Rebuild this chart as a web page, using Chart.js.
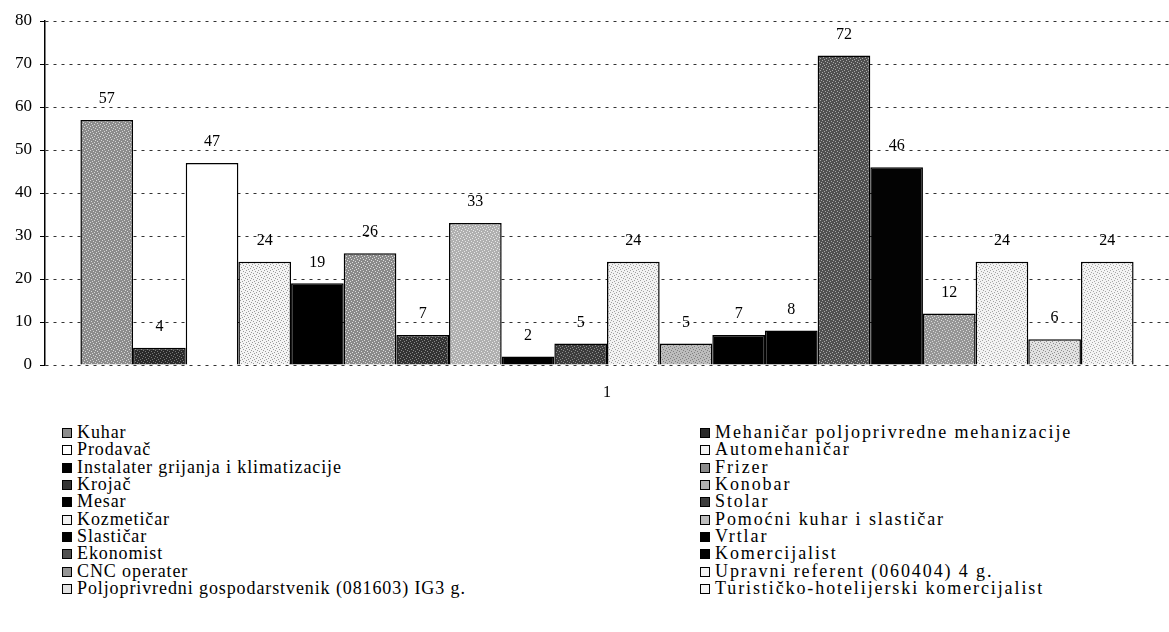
<!DOCTYPE html>
<html>
<head>
<meta charset="utf-8">
<script src="https://cdn.jsdelivr.net/npm/chart.js@4/dist/chart.umd.min.js"></script>
<style>
    html, body { margin: 0; padding: 0; background: #fff; }
    body { width: 1169px; height: 632px; position: relative; overflow: hidden; }
    #chartBox { position: absolute; left: 0; top: 0; width: 1169px; height: 410px; }
    .legend-col { position: absolute; top: 424px; color: #000;
        font-family: "Liberation Serif", "Times New Roman", Tinos, Times, "DejaVu Serif", serif; }
    .legend-col .item { height: 17.35px; line-height: 17.35px; white-space: nowrap;
        font-size: 18px; letter-spacing: 0.9px; }
    .legend-col .box { display: inline-block; width: 10px; height: 10px; border: 1px solid #000;
        margin-right: 5px; vertical-align: 0px; box-sizing: border-box; }
    #legendLeft { left: 62px; }
    #legendRight { left: 700px; }
    #legendRight .item { letter-spacing: 1.9px; }
</style>
</head>
<body>
<div id="chartBox"><canvas id="chart" width="1169" height="410"></canvas></div>
<div class="legend-col" id="legendLeft"></div>
<div class="legend-col" id="legendRight"></div>
<script>
// category on the x axis
let categories = ['1'];

// series, in the order the bars are drawn
let seriesNames = [
    'Kuhar', 'Mehaničar poljoprivredne mehanizacije',
    'Prodavač', 'Automehaničar',
    'Instalater grijanja i klimatizacije', 'Frizer',
    'Krojač', 'Konobar',
    'Mesar', 'Stolar',
    'Kozmetičar', 'Pomoćni kuhar i slastičar',
    'Slastičar', 'Vrtlar',
    'Ekonomist', 'Komercijalist',
    'CNC operater', 'Upravni referent (060404) 4 g.',
    'Poljoprivredni gospodarstvenik (081603) IG3 g.', 'Turističko-hotelijerski komercijalist'
];
let seriesValues = [57, 4, 47, 24, 19, 26, 7, 33, 2, 5, 24, 5, 7, 8, 72, 46, 12, 24, 6, 24];

// y axis
let yTicks = [0, 10, 20, 30, 40, 50, 60, 70, 80];

// grey shades (base, speckle) used for each series, same order
let shades = [
    ['#8c8c8c', '#d8d8d8'], ['#2a2a2a', '#777777'],
    ['#ffffff', '#ffffff'], ['#f4f4f4', '#9a9a9a'],
    ['#000000', '#000000'], ['#8a8a8a', '#dddddd'],
    ['#333333', '#888888'], ['#b0b0b0', '#e8e8e8'],
    ['#000000', '#000000'], ['#3c3c3c', '#8c8c8c'],
    ['#f2f2f2', '#a0a0a0'], ['#bdbdbd', '#808080'],
    ['#000000', '#000000'], ['#000000', '#000000'],
    ['#505050', '#a8a8a8'], ['#030303', '#030303'],
    ['#959595', '#dadada'], ['#f3f3f3', '#a5a5a5'],
    ['#e2e2e2', '#8e8e8e'], ['#f4f4f4', '#a8a8a8']
];

(function(){
    let serif = '"Liberation Serif", "Times New Roman", Tinos, Times, "DejaVu Serif", serif';
    let speckle = [[0, 0], [3, 1], [1, 3], [4, 4], [2, 5], [5, 2]];

    let makePattern = function(base, dot) {
        let c = document.createElement('canvas');
        c.width = 6;
        c.height = 6;
        let g = c.getContext('2d');
        g.fillStyle = base;
        g.fillRect(0, 0, 6, 6);
        g.fillStyle = dot;
        speckle.forEach((p) => g.fillRect(p[0], p[1], 1, 1));
        return g.createPattern(c, 'repeat');
    };

    let valueLabels = {
        id: 'valueLabels',
        afterDatasetsDraw(chart) {
            let ctx = chart.ctx;
            ctx.save();
            ctx.font = '16px ' + serif;
            ctx.fillStyle = '#000';
            ctx.textAlign = 'center';
            ctx.textBaseline = 'middle';
            chart.data.datasets.forEach((ds, i) => {
                let bar = chart.getDatasetMeta(i).data[0];
                ctx.fillText(String(ds.data[0]), bar.x, bar.y - 21);
            });
            ctx.restore();
        }
    };

    let datasets = seriesNames.map((name, i) => ({
        label: name,
        data: [seriesValues[i]],
        backgroundColor: makePattern(shades[i][0], shades[i][1]),
        borderColor: '#000',
        borderWidth: 1.5,
        borderSkipped: 'bottom'
    }));

    new Chart(document.getElementById('chart'), {
        type: 'bar',
        data: { labels: categories, datasets: datasets },
        plugins: [valueLabels],
        options: {
            responsive: false,
            animation: false,
            layout: { padding: { top: 21, right: 0, left: 0, bottom: 0 } },
            plugins: { legend: { display: false }, tooltip: { enabled: false } },
            datasets: { bar: { categoryPercentage: 0.937, barPercentage: 1 } },
            scales: {
                x: {
                    afterFit: (scale) => { scale.height = 45; },
                    grid: { display: false },
                    border: { display: false },
                    ticks: {
                        color: '#000', padding: 10,
                        font: { family: serif, size: 16 }
                    }
                },
                y: {
                    min: yTicks[0],
                    max: yTicks[yTicks.length - 1],
                    afterFit: (scale) => { scale.width = 45; },
                    afterBuildTicks: (scale) => {
                        scale.ticks = yTicks.map((v) => ({ value: v }));
                    },
                    border: { display: true, color: '#000', width: 1.5, dash: [3, 5] },
                    grid: {
                        color: '#333', lineWidth: 1, tickLength: 5,
                        tickColor: '#000', tickBorderDash: [],
                        drawTicks: true
                    },
                    ticks: {
                        color: '#000', padding: 8,
                        font: { family: serif, size: 17 }
                    }
                }
            }
        }
    });

    let buildLegend = function(el, indexes) {
        indexes.forEach((i) => {
            let row = document.createElement('div');
            row.className = 'item';
            let box = document.createElement('span');
            box.className = 'box';
            box.style.background = shades[i][0];
            let text = document.createElement('span');
            text.textContent = seriesNames[i];
            row.appendChild(box);
            row.appendChild(text);
            el.appendChild(row);
        });
    };

    let left = [], right = [];
    seriesNames.forEach((n, i) => (i % 2 === 0 ? left : right).push(i));
    buildLegend(document.getElementById('legendLeft'), left);
    buildLegend(document.getElementById('legendRight'), right);
})();
</script>
</body>
</html>
